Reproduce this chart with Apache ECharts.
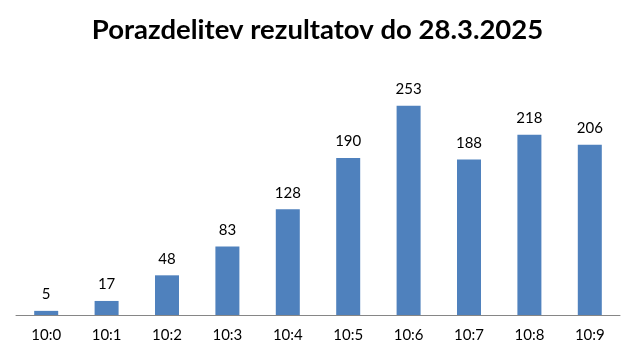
<!DOCTYPE html>
<html><head><meta charset="utf-8">
<script src="https://cdn.jsdelivr.net/npm/echarts@6/dist/echarts.min.js"></script>
<style>html,body{margin:0;padding:0;background:#fff}#c{width:635px;height:357px}</style>
</head><body><div id="c"></div>
<script>
const categories = ['10:0','10:1','10:2','10:3','10:4','10:5','10:6','10:7','10:8','10:9'];
const values = [5, 17, 48, 83, 128, 190, 253, 188, 218, 206];
const titleText = 'Porazdelitev rezultatov do 28.3.2025';
const chart = echarts.init(document.getElementById('c'));
chart.setOption({
  animation: false,
  backgroundColor: '#fff',
  title: { text: titleText, left: 'center', top: 11,
    textStyle: { fontFamily: 'Lato', fontWeight: 'bold', fontSize: 27.5, color: '#000' } },
  grid: { left: 16, right: 15, top: 67, bottom: 42 },
  xAxis: { type: 'category', data: categories,
    axisLine: { lineStyle: { color: '#868686', width: 1 } },
    axisTick: { show: false },
    axisLabel: { color: '#000', fontFamily: 'Lato', fontSize: 15, margin: 13 } },
  yAxis: { type: 'value', min: 0, max: 300, show: false, splitLine: { show: false } },
  series: [{ type: 'bar', data: values, barWidth: 24,
    itemStyle: { color: '#4F81BD' },
    label: { show: true, position: 'top', distance: 9, color: '#000', fontFamily: 'Lato', fontSize: 15 } }]
});
</script></body></html>
